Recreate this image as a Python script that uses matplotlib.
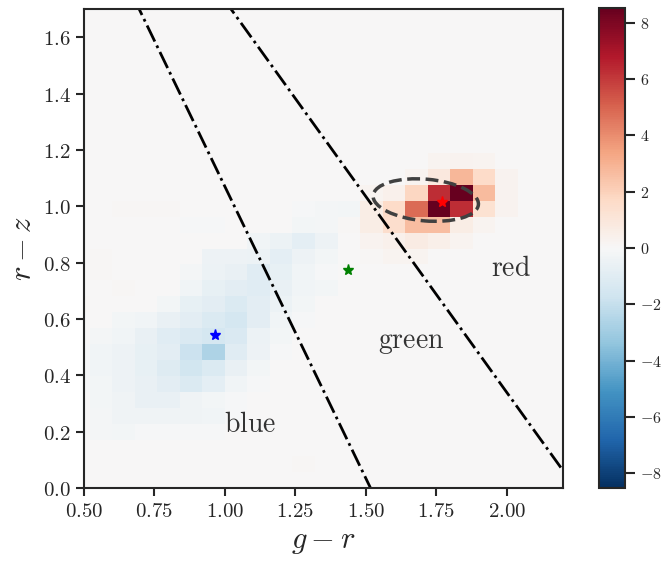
import numpy as np
import matplotlib
matplotlib.use("Agg")
import matplotlib.pyplot as plt
from matplotlib.patches import Ellipse
from matplotlib.ticker import FuncFormatter

plt.rcParams["mathtext.fontset"] = "cm"

# bin edges of the g-r / r-z histogram difference
x_edges = np.arange(24) * 0.08 + 0.44
y_edges = np.linspace(0.0, 1.7, 31)

# cell values, row 0 = bottom (r-z from 0), column 0 = g-r from 0.44; rows above 20 are zero
hist_rows = [
    [0, 0, 0, 0, 0, 0, 0, 0, 0, 0, 0, 0, 0, 0, 0, 0, 0, 0, 0, 0, 0, 0, 0],
    [0, 0, 0, 0, 0, 0, 0, 0, 0, 0, 0.1, 0, 0, 0, 0, 0, 0, 0, 0, 0, 0, 0, 0],
    [0, 0, 0, 0, 0, 0, 0, 0, 0, 0, 0, 0, 0, 0, 0, 0, 0, 0, 0, 0, 0, 0, 0],
    [0, -0.15, -0.2, -0.1, -0.1, -0.1, -0.1, 0, 0, 0, 0, 0, 0, 0, 0, 0, 0, 0, 0, 0, 0, 0, 0],
    [0, -0.15, -0.35, -0.35, -0.35, -0.35, -0.3, -0.1, 0, 0, 0, 0, 0, 0, 0, 0, 0, 0, 0, 0, 0, 0, 0],
    [0, -0.2, -0.35, -0.6, -0.6, -0.35, -0.25, -0.1, 0, 0, 0, 0, 0, 0, 0, 0, 0, 0, 0, 0, 0, 0, 0],
    [-0.1, -0.25, -0.45, -0.6, -0.9, -1.2, -0.8, -0.3, -0.1, 0, 0, 0, 0, 0, 0, 0, 0, 0, 0, 0, 0, 0, 0],
    [-0.1, -0.3, -0.45, -0.7, -1.1, -1.6, -1.2, -0.6, -0.2, 0, 0, 0, 0, 0, 0, 0, 0, 0, 0, 0, 0, 0, 0],
    [-0.1, -0.3, -0.4, -0.7, -0.9, -1.8, -2.6, -1.0, -0.4, -0.1, 0, 0, 0, 0, 0, 0, 0, 0, 0, 0, 0, 0, 0],
    [0, -0.15, -0.3, -0.6, -1.0, -1.3, -1.5, -1.3, -0.5, -0.2, 0, 0, 0, 0, 0, 0, 0, 0, 0, 0, 0, 0, 0],
    [0, 0, -0.2, -0.3, -0.6, -0.9, -1.2, -1.5, -0.9, -0.3, -0.1, 0, 0, 0, 0, 0, 0, 0, 0, 0, 0, 0, 0],
    [0.1, 0, 0, 0, -0.2, -0.7, -0.9, -1.2, -0.9, -0.5, -0.2, 0, 0, 0, 0, 0, 0, 0, 0, 0, 0, 0, 0],
    [0, 0, 0.1, 0, 0, -0.3, -0.7, -0.9, -1.0, -0.6, -0.3, -0.2, 0, 0, 0, 0, 0, 0, 0, 0, 0, 0, 0],
    [0, 0.1, 0, 0, 0, -0.15, -0.5, -0.6, -1.0, -0.7, -0.3, -0.1, 0, 0, 0, 0, 0, 0, 0, 0, 0, 0, 0],
    [0, 0.1, 0, 0, 0, 0, -0.4, -0.4, -0.5, -0.8, -0.4, -0.2, 0, 0.1, 0.2, 0.2, 0, 0, 0, 0, 0, 0, 0],
    [0, 0, 0, 0, 0, 0, 0, 0, -0.3, -0.5, -0.8, -0.4, 0, 0.3, 0.4, 0.7, 0.5, 0.2, 0, 0, 0, 0, 0],
    [0, 0, 0, 0, 0, -0.1, -0.1, 0, 0, 0, -0.2, -0.15, 0.1, 0.6, 1.5, 2.6, 2.6, 0.6, 0.2, 0, 0, 0, 0],
    [0, 0, 0.1, 0.1, 0.1, 0, 0, 0, 0, 0, -0.1, -0.15, -0.2, 0.6, 1.6, 4.8, 8.5, 6.3, 1.3, 0.3, 0, 0, 0],
    [0, 0, 0, 0, 0, 0, 0, 0, 0, 0, 0, 0, 0, 0.2, 0.4, 1.8, 6.3, 8.5, 2.7, 0.3, 0, 0, 0],
    [0, 0, 0, 0, 0, 0, 0, 0, 0, 0, 0, 0, 0, 0, 0, 0.2, 0.9, 2.8, 1.6, 0.3, 0, 0, 0],
    [0, 0, 0, 0, 0, 0, 0, 0, 0, 0, 0, 0, 0, 0, 0, 0, 0.2, 0.3, 0.2, 0, 0, 0, 0],
]

# colour cuts: r-z = intercept + slope * (g-r)
cut_slopes = [-2.07, -1.39]
cut_intercepts = [3.14, 3.12]

# population centres
star_x = [0.965, 1.436, 1.771]
star_y = [0.543, 0.773, 1.016]
star_colors = ["blue", "green", "red"]

region_labels = ["blue", "green", "red"]
label_x = [0.997, 1.543, 1.944]
label_y = [0.199, 0.497, 0.752]

vlim = 8.53

grid = np.zeros((len(y_edges) - 1, len(x_edges) - 1))
grid[: len(hist_rows)] = np.array(hist_rows)

fig = plt.figure(figsize=(6.65, 5.63), dpi=100)
ax = fig.add_axes([0.1263, 0.1332, 0.7203, 0.8508])
mesh = ax.pcolormesh(x_edges, y_edges, grid, cmap="RdBu_r", vmin=-vlim, vmax=vlim)

xx = np.array([0.5, 2.2])
for s, b in zip(cut_slopes, cut_intercepts):
    ax.plot(xx, b + s * xx, color="k", ls="-.", lw=2)

ax.add_patch(Ellipse((1.713, 1.022), width=0.375, height=0.148, angle=-5,
                     fill=False, ls="--", lw=2.5, edgecolor="0.25"))

for x, y, c in zip(star_x, star_y, star_colors):
    ax.plot(x, y, marker="*", color=c, ms=8, ls="none")

for t, x, y in zip(region_labels, label_x, label_y):
    ax.text(x, y, r"$\mathrm{%s}$" % t, fontsize=20, color="0.2")

ax.set_xlim(0.5, 2.2)
ax.set_ylim(0.0, 1.7)
ax.set_xticks(np.arange(0.5, 2.01, 0.25))
ax.set_yticks(np.arange(0.0, 1.61, 0.2))
ax.xaxis.set_major_formatter(FuncFormatter(lambda v, p: r"$%.2f$" % v))
ax.yaxis.set_major_formatter(FuncFormatter(lambda v, p: r"$%.1f$" % v))
ax.tick_params(direction="out", length=6, width=1.5, colors="0.15", labelsize=15)
for sp in ax.spines.values():
    sp.set_linewidth(1.5)
    sp.set_color("0.15")
ax.set_xlabel(r"$g - r$", fontsize=22, color="0.15")
ax.set_ylabel(r"$r - z$", fontsize=22, color="0.15")

cax = fig.add_axes([0.901, 0.1332, 0.039, 0.8526])
cb = fig.colorbar(mesh, cax=cax)
cb.set_ticks(np.arange(-8, 9, 2))
cb.ax.yaxis.set_major_formatter(FuncFormatter(lambda v, p: r"$%d$" % v))
cb.ax.tick_params(length=7, width=1.5, colors="0.15", labelsize=11.5)
cb.outline.set_linewidth(1.5)
cb.outline.set_edgecolor("0.15")

fig.savefig("out.png", dpi=100)
